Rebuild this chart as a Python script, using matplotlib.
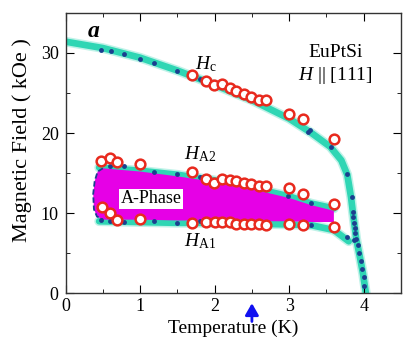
import numpy as np
import matplotlib
matplotlib.use("Agg")
import matplotlib.pyplot as plt
from matplotlib.ticker import MultipleLocator

plt.rcParams['font.family'] = ['Liberation Serif', 'DejaVu Serif']
plt.rcParams['mathtext.fontset'] = 'custom'
plt.rcParams['mathtext.rm'] = 'Liberation Serif'
plt.rcParams['mathtext.it'] = 'Liberation Serif:italic'

### DATA ###
# blue dots (other measurement)
hc_blue_T = [0.48, 0.61, 0.79, 1.00, 1.19, 1.50, 1.80, 3.25, 3.28, 3.56,
             3.77, 3.84, 3.85, 3.86, 3.87, 3.88, 3.89, 3.90, 3.92, 3.94, 3.97, 3.98, 4.00, 4.01]
hc_blue_H = [30.4, 30.2, 29.8, 29.3, 28.7, 27.7, 26.8, 20.1, 20.4, 18.2,
             14.9, 12.0, 10.2, 9.5, 8.8, 8.2, 7.5, 6.8, 6.0, 5.0, 4.1, 3.1, 2.1, 0.9]
ha2_blue_T = [0.59, 0.79, 1.19, 1.50, 1.80, 2.98, 3.29]
ha2_blue_H = [15.9, 15.9, 15.1, 14.9, 14.5, 12.1, 11.3]
ha1_blue_T = [0.48, 0.59, 0.79, 1.19, 1.50, 1.80, 3.29, 3.77, 3.87]
ha1_blue_H = [9.1, 9.0, 8.9, 9.0, 8.8, 9.0, 8.5, 7.0, 6.7]

# red open circles
hc_red_T = [1.70, 1.89, 1.99, 2.10, 2.20, 2.29, 2.40, 2.49, 2.60, 2.69, 3.00, 3.18, 3.60]
hc_red_H = [27.2, 26.5, 26.0, 26.1, 25.6, 25.3, 24.9, 24.5, 24.1, 24.1, 22.4, 21.7, 19.2]
ha2_red_T = [0.48, 0.59, 0.69, 1.00, 1.69, 1.89, 1.99, 2.10, 2.20, 2.29, 2.40, 2.49, 2.60, 2.69, 3.00, 3.18, 3.60]
ha2_red_H = [16.5, 16.9, 16.4, 16.2, 15.1, 14.3, 13.8, 14.3, 14.1, 14.0, 13.8, 13.6, 13.4, 13.4, 13.1, 12.4, 11.2]
ha1_red_T = [0.49, 0.59, 0.69, 1.00, 1.69, 1.89, 2.00, 2.10, 2.20, 2.29, 2.40, 2.49, 2.60, 2.69, 3.00, 3.18, 3.60]
ha1_red_H = [10.8, 10.0, 9.1, 9.3, 8.8, 8.9, 8.9, 8.9, 8.9, 8.7, 8.7, 8.7, 8.7, 8.5, 8.7, 8.5, 8.3]

# guide bands (drawn by hand in the original)
hc_band_T = [0.0, 0.5, 1.0, 1.5, 2.0, 2.5, 3.0, 3.3, 3.55, 3.7, 3.78, 3.83, 3.87, 3.9, 3.95, 3.99, 4.03]
hc_band_H = [31.4, 30.6, 29.4, 27.8, 26.0, 24.1, 21.8, 20.0, 18.3, 16.6, 14.8, 12.0, 9.0, 6.8, 4.5, 2.5, 0.0]
ha2_band_T = [0.45, 1.0, 1.5, 2.0, 2.5, 3.0, 3.3, 3.6]
ha2_band_H = [15.7, 15.3, 14.8, 14.1, 13.2, 12.1, 11.2, 10.6]
ha1_band_T = [0.45, 1.0, 1.5, 2.0, 2.5, 3.0, 3.3, 3.6, 3.8]
ha1_band_H = [9.0, 8.9, 8.8, 8.8, 8.7, 8.6, 8.5, 7.9, 6.5]

# A-phase region
aphase_top_T = [0.5, 1.0, 1.5, 2.0, 2.5, 3.0, 3.3, 3.6]
aphase_top_H = [15.6, 15.2, 14.6, 13.9, 13.0, 11.9, 11.0, 10.3]
aphase_bot_T = [0.5, 1.0, 1.5, 2.0, 2.5, 3.0, 3.3, 3.6]
aphase_bot_H = [9.2, 9.2, 9.1, 9.1, 9.0, 9.0, 8.9, 8.9]
aphase_left_T = [0.5, 0.43, 0.39, 0.37, 0.38, 0.42, 0.5]
aphase_left_H = [15.6, 15.2, 14.0, 12.4, 10.5, 9.6, 9.2]

### PLOT ###
teal = '#2fd6b4'
navy = '#1b3f8f'
red = '#e82a1e'

fig = plt.figure(figsize=(4.05, 3.46), dpi=100)
ax = fig.add_axes([0.162, 0.152, 0.828, 0.811])

for T, H in [(hc_band_T, hc_band_H), (ha2_band_T, ha2_band_H), (ha1_band_T, ha1_band_H)]:
    ax.plot(T, H, color=teal, lw=7, alpha=0.3, solid_capstyle='round', zorder=1)
    ax.plot(T, H, color=teal, lw=4.8, solid_capstyle='round', zorder=1)

# build polygon: left edge -> bottom -> top reversed
poly_T = list(aphase_left_T) + list(aphase_bot_T[1:]) + list(aphase_top_T[::-1][:-1])
poly_H = list(aphase_left_H) + list(aphase_bot_H[1:]) + list(aphase_top_H[::-1][:-1])
ax.fill(poly_T, poly_H, color='#e600e6', lw=0, zorder=2)
ax.plot(aphase_left_T, aphase_left_H, color=navy, lw=1.3, ls=(0, (3, 1.5)), zorder=3)

for T, H in [(hc_blue_T, hc_blue_H), (ha2_blue_T, ha2_blue_H), (ha1_blue_T, ha1_blue_H)]:
    ax.plot(T, H, 'o', color=navy, ms=3.5, mew=0, zorder=4)
for T, H in [(hc_red_T, hc_red_H), (ha2_red_T, ha2_red_H), (ha1_red_T, ha1_red_H)]:
    ax.plot(T, H, 'o', mfc='white', mec=red, ms=7, mew=1.8, zorder=5)

ax.text(1.15, 11.8, 'A-Phase', fontsize=13, ha='center', va='center', zorder=6,
        bbox=dict(facecolor='white', edgecolor='none', pad=1.2))
ax.text(1.88, 28.6, r'$H_{\rm c}$', fontsize=14, ha='center', va='center')
ax.text(1.8, 17.4, r'$H_{\rm A2}$', fontsize=14, ha='center', va='center')
ax.text(1.8, 6.5, r'$H_{\rm A1}$', fontsize=14, ha='center', va='center')
ax.text(3.62, 30.0, 'EuPtSi', fontsize=14, ha='center', va='center')
ax.text(3.62, 27.2, r'$H$ || [111]', fontsize=14, ha='center', va='center')
ax.text(0.38, 32.7, 'a', fontsize=17, fontweight='bold', fontstyle='italic', ha='center', va='center')

# blue arrow under the axis at T = 2.5 K
ax.annotate('', xy=(2.5, -0.025), xytext=(2.5, -0.11),
            xycoords=('data', 'axes fraction'), textcoords=('data', 'axes fraction'),
            arrowprops=dict(arrowstyle='-|>,head_width=0.4,head_length=0.7', color='#1010f0', lw=2),
            annotation_clip=False)

ax.set_xlim(0, 4.5)
ax.set_ylim(0, 35)
ax.xaxis.set_major_locator(MultipleLocator(1))
ax.xaxis.set_minor_locator(MultipleLocator(0.5))
ax.yaxis.set_major_locator(MultipleLocator(10))
ax.yaxis.set_minor_locator(MultipleLocator(5))
ax.tick_params(which='both', direction='in', top=True, right=True, labelsize=13)
ax.tick_params(which='major', length=6)
ax.tick_params(which='minor', length=3)
ax.tick_params(axis='x', pad=3)
ax.tick_params(axis='y', pad=5)
for s in ax.spines.values():
    s.set_linewidth(1.0)
    s.set_color('#333333')

ax.set_xlabel('Temperature (K)', fontsize=14, labelpad=4)
ax.set_ylabel('Magnetic Field ( kOe )', fontsize=16)
ax.yaxis.set_label_coords(-0.1, 0.545)

fig.savefig('out.png', dpi=100)
